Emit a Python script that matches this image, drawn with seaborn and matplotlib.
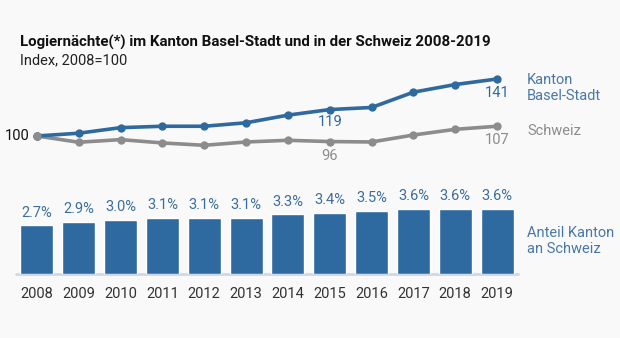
import matplotlib
matplotlib.use("Agg")
import matplotlib.pyplot as plt
import seaborn as sns
import pandas as pd

years = ["2008", "2009", "2010", "2011", "2012", "2013", "2014", "2015", "2016", "2017", "2018", "2019"]
basel_index = [100, 102, 106, 107, 107, 109.5, 115, 119, 120.5, 131.5, 137, 141]
schweiz_index = [100, 95.5, 97.4, 95, 93.3, 95.7, 96.9, 96, 95.7, 100.7, 104.8, 107]
anteil = [2.7, 2.9, 3.0, 3.1, 3.1, 3.1, 3.3, 3.4, 3.5, 3.6, 3.6, 3.6]
anteil_labels = ["2.7%", "2.9%", "3.0%", "3.1%", "3.1%", "3.1%", "3.3%", "3.4%", "3.5%", "3.6%", "3.6%", "3.6%"]

title = "Logiernächte(*) im Kanton Basel-Stadt und in der Schweiz 2008-2019"
subtitle = "Index, 2008=100"

BLUE = "#2f6a9f"
BAR = "#2e69a0"
GRAY = "#8c8c8c"
BG = "#f9f9f9"
LBLUE = "#4a78a6"

sns.set_theme(style="white")
plt.rcParams["font.family"] = ["Roboto", "DejaVu Sans"]

W, H = 620, 338
fig = plt.figure(figsize=(W / 100, H / 100), dpi=100, facecolor=BG)

def px_axes(left, top, right, bottom):
    return fig.add_axes([left / W, 1 - bottom / H, (right - left) / W, (bottom - top) / H])

ax1 = px_axes(16, 73.4, 518, 149.9)
ax2 = px_axes(16, 201.7, 518, 273.7)
for ax in (ax1, ax2):
    ax.set_facecolor("none")
    for s in ax.spines.values():
        s.set_visible(False)
    ax.set_xticks([])
    ax.set_yticks([])

df_line = pd.DataFrame({
    "x": list(range(len(years))) * 2,
    "value": basel_index + schweiz_index,
    "series": ["Basel"] * len(years) + ["Schweiz"] * len(years),
})
sns.lineplot(data=df_line[df_line.series == "Schweiz"], x="x", y="value", ax=ax1,
             color=GRAY, lw=2.6, marker="o", markersize=6, markeredgewidth=0, legend=False)
sns.lineplot(data=df_line[df_line.series == "Basel"], x="x", y="value", ax=ax1,
             color=BLUE, lw=2.6, marker="o", markersize=6, markeredgewidth=0, legend=False)
ax1.plot([0], [schweiz_index[0]], "o", color=GRAY, ms=6, mew=0, zorder=5)
ax1.set_xlim(-0.5, 11.5)
ax1.set_ylim(90, 145)
ax1.set_xlabel("")
ax1.set_ylabel("")

fs = 10.5
ax1.text(-0.17, 100, "100", ha="right", va="center", fontsize=fs, color="#111111")
ax1.annotate(f"{basel_index[7]:.0f}", (7, basel_index[7]), xytext=(0, -4), textcoords="offset points",
             ha="center", va="top", fontsize=fs, color=BLUE)
ax1.annotate(f"{basel_index[11]:.0f}", (11, basel_index[11]), xytext=(0, -5), textcoords="offset points",
             ha="center", va="top", fontsize=fs, color=BLUE)
ax1.annotate(f"{schweiz_index[7]:.0f}", (7, schweiz_index[7]), xytext=(0, -5.5), textcoords="offset points",
             ha="center", va="top", fontsize=fs, color=GRAY)
ax1.annotate(f"{schweiz_index[11]:.0f}", (11, schweiz_index[11]), xytext=(0, -5), textcoords="offset points",
             ha="center", va="top", fontsize=fs, color=GRAY)

df_bar = pd.DataFrame({"year": years, "anteil": anteil})
sns.barplot(data=df_bar, x="year", y="anteil", ax=ax2, color=BAR, saturation=1, width=0.79, zorder=2)
ax2.set_xlim(-0.5, 11.5)
ax2.set_ylim(0, 4)
ax2.set_xlabel("")
ax2.set_ylabel("")
ax2.set_xticks([])
ax2.axhline(0, xmin=0, xmax=1, color="#cdd9e6", lw=2, zorder=1, clip_on=False)
for i, (v, lab) in enumerate(zip(anteil, anteil_labels)):
    ax2.annotate(lab, (i, v), xytext=(0, 4), textcoords="offset points", ha="center", va="bottom",
                 fontsize=fs, color="#3b6e9e")
for i, y in enumerate(years):
    ax2.annotate(y, (i, 0), xytext=(0, -9.5), textcoords="offset points", ha="center", va="top",
                 fontsize=fs, color="#333333")

fig.text(527 / W, 1 - 88 / H, "Kanton\nBasel-Stadt", ha="left", va="center", fontsize=fs,
         color=LBLUE, linespacing=1.15)
fig.text(527 / W, 1 - 131 / H, "Schweiz", ha="left", va="center", fontsize=fs, color=GRAY)
fig.text(527 / W, 1 - 241 / H, "Anteil Kanton\nan Schweiz", ha="left", va="center", fontsize=fs,
         color=LBLUE, linespacing=1.15)

fig.text(20 / W, 1 - 42 / H, title, ha="left", va="center", fontsize=10.8, fontweight="bold", color="#111111")
fig.text(20 / W, 1 - 60 / H, subtitle, ha="left", va="center", fontsize=10.5, color="#222222")

fig.savefig("out.png", dpi=100, facecolor=BG)
